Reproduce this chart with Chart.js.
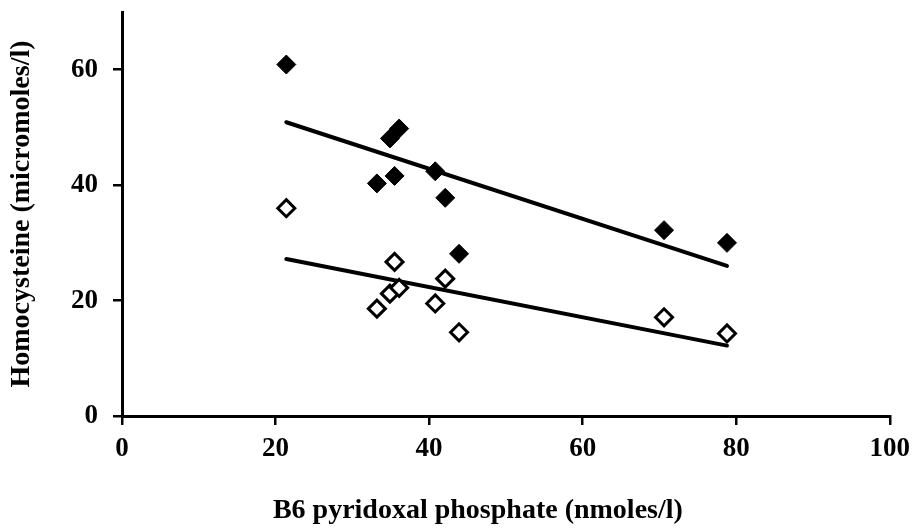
<!DOCTYPE html>
<html>
<head>
<meta charset="utf-8">
<script src="https://cdn.jsdelivr.net/npm/chart.js@4/dist/chart.umd.min.js"></script>
<style>
  html, body { margin: 0; padding: 0; background: #fff; }
  #wrap { width: 918px; height: 529px; }
</style>
</head>
<body>
<div id="wrap"><canvas id="homocysteineChart"></canvas></div>
<script>
// B6 pyridoxal phosphate (nmoles/l), one value per subject
const b6Levels = [21.4, 33.2, 34.9, 35.5, 36.1, 40.8, 42.1, 43.9, 70.6, 78.8];
// Homocysteine (micromoles/l), filled diamonds
const hcyFilled = [60.9, 40.3, 48.1, 41.6, 49.8, 42.4, 37.8, 28.1, 32.2, 30.0];
// Homocysteine (micromoles/l), open diamonds
const hcyOpen = [36.0, 18.6, 21.2, 26.7, 22.2, 19.5, 23.8, 14.5, 17.1, 14.3];

// Trend line end points
const trendX = [21.4, 78.8];
const trendFilled = [50.9, 26.0];
const trendOpen = [27.2, 12.2];

const yTicks = [0, 20, 40, 60];
const xTicks = [0, 20, 40, 60, 80, 100];

const toPoints = (xs, ys) => xs.map((x, i) => ({ x: x, y: ys[i] }));

const serif = 'Liberation Serif, Times New Roman, serif';

const ctx = document.getElementById('homocysteineChart').getContext('2d');
const chart = new Chart(ctx, {
  type: 'scatter',
  data: {
    datasets: [
      {
        label: 'Homocysteine (filled)',
        data: toPoints(b6Levels, hcyFilled),
        pointStyle: 'rectRot',
        pointRadius: 9.5,
        pointBackgroundColor: '#000',
        pointBorderColor: '#000',
        pointBorderWidth: 1,
        order: 0
      },
      {
        label: 'Homocysteine (open)',
        data: toPoints(b6Levels, hcyOpen),
        pointStyle: 'rectRot',
        pointRadius: 8.5,
        pointBackgroundColor: '#fff',
        pointBorderColor: '#000',
        pointBorderWidth: 3,
        order: 0
      },
      {
        label: 'Trend (filled)',
        data: toPoints(trendX, trendFilled),
        showLine: true,
        borderColor: '#000',
        borderWidth: 4,
        borderCapStyle: 'round',
        pointRadius: 0,
        order: 1
      },
      {
        label: 'Trend (open)',
        data: toPoints(trendX, trendOpen),
        showLine: true,
        borderColor: '#000',
        borderWidth: 4,
        borderCapStyle: 'round',
        pointRadius: 0,
        order: 1
      }
    ]
  },
  options: {
    responsive: true,
    maintainAspectRatio: false,
    animation: false,
    layout: {
      padding: { top: 12, right: 28, left: 0, bottom: 0 }
    },
    scales: {
      x: {
        type: 'linear',
        min: 0,
        max: 100,
        afterFit: (scale) => { scale.height = 113; },
        afterBuildTicks: (axis) => {
          axis.ticks = xTicks.map(v => ({ value: v }));
        },
        border: { display: true, color: '#000', width: 3 },
        grid: {
          drawOnChartArea: false,
          drawTicks: true,
          tickLength: 9,
          color: '#000',
          lineWidth: 2.5
        },
        ticks: {
          color: '#000',
          padding: 8,
          maxRotation: 0,
          font: { family: serif, size: 27, weight: 'bold' }
        },
        title: {
          display: true,
          text: 'B6 pyridoxal phosphate (nmoles/l)\u00a0\u00a0\u00a0\u00a0\u00a0\u00a0\u00a0\u00a0',
          color: '#000',
          padding: { top: 0, bottom: 1 },
          font: { family: serif, size: 28, weight: 'bold' }
        }
      },
      y: {
        type: 'linear',
        min: 0,
        max: 70,
        afterFit: (scale) => {
          scale.width = 122;
          scale.paddingTop = 0;
          scale.paddingBottom = 0;
        },
        afterBuildTicks: (axis) => {
          axis.ticks = yTicks.map(v => ({ value: v }));
        },
        border: { display: true, color: '#000', width: 3 },
        grid: {
          drawOnChartArea: false,
          drawTicks: true,
          tickLength: 9,
          color: '#000',
          lineWidth: 2.5
        },
        ticks: {
          color: '#000',
          padding: 15,
          font: { family: serif, size: 27, weight: 'bold' }
        },
        title: {
          display: true,
          text: 'Homocysteine (micromoles/l)',
          color: '#000',
          padding: { top: 5, bottom: 0 },
          font: { family: serif, size: 28, weight: 'bold' }
        }
      }
    },
    plugins: {
      legend: { display: false },
      tooltip: { enabled: false }
    }
  }
});
</script>
</body>
</html>
